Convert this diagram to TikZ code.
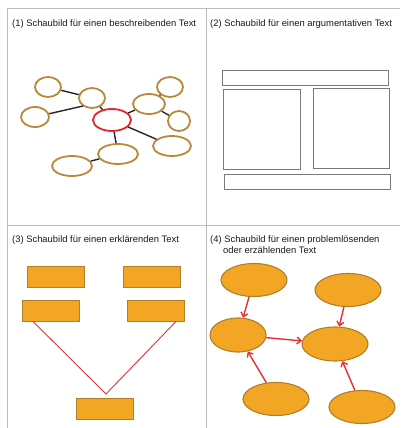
\documentclass[tikz,border=0pt]{standalone}
\usepackage{fontspec}
\setmainfont{Liberation Sans}
\usetikzlibrary{shapes.geometric,arrows.meta}
\definecolor{gridgray}{HTML}{BDBDBD}
\definecolor{ringbrown}{HTML}{B8893A}
\definecolor{ringred}{HTML}{E8242A}
\definecolor{boxgray}{HTML}{7A7A7A}
\definecolor{orfill}{HTML}{F2A623}
\definecolor{orborder}{HTML}{B07F2A}
\definecolor{linkred}{HTML}{E83030}
\tikzset{
  title/.style={anchor=base west, inner sep=0pt, font=\fontsize{9.4}{11}\selectfont, text=black!90},
  ring/.style={ellipse, draw=ringbrown, line width=1.8pt, inner sep=0pt},
  redring/.style={ellipse, draw=ringred, line width=1.8pt, inner sep=0pt},
  link/.style={draw=black!85, line width=1.4pt},
  argbox/.style={draw=boxgray, line width=1pt, inner sep=0pt, rectangle},
  obox/.style={rectangle, fill=orfill, draw=orborder, line width=1pt, inner sep=0pt, minimum width=57pt, minimum height=21pt},
  oell/.style={ellipse, fill=orfill, draw=orborder, line width=1.1pt, inner sep=0pt},
  redline/.style={draw=linkred, line width=0.9pt},
  redarrow/.style={draw=linkred, line width=1.4pt, -{Straight Barb[length=4pt,width=7pt]}},
}
\begin{document}
\begin{tikzpicture}[x=1pt,y=-1pt]
\useasboundingbox (0,0) rectangle (400,428);
% grid
\draw[gridgray, line width=1pt] (7,9) -- (400,9);
\draw[gridgray, line width=1pt] (7,9) -- (7,428);
\draw[gridgray, line width=1pt] (206,9) -- (206,428);
\draw[gridgray, line width=1pt] (7,225) -- (400,225);
% titles
\node[title] (t1) at (12,27) {(1) Schaubild für einen beschreibenden Text};
\node[title] (t2) at (210,27) {(2) Schaubild für einen argumentativen Text};
\node[title] (t3) at (12,242) {(3) Schaubild für einen erklärenden Text};
\node[title] (t4) at (210,242) {(4) Schaubild für einen problemlösenden};
\node[title] (t4b) at (223,253) {oder erzählenden Text};
% panel 1
\node[ring, minimum width=26pt, minimum height=20pt] (e1) at (48,87) {};
\node[ring, minimum width=26pt, minimum height=20pt] (e2) at (92,98) {};
\node[ring, minimum width=28pt, minimum height=20pt] (e3) at (35,117) {};
\node[redring, minimum width=38pt, minimum height=22pt] (ec) at (112,120) {};
\node[ring, minimum width=32pt, minimum height=20pt] (e5) at (149,104) {};
\node[ring, minimum width=26pt, minimum height=20pt] (e6) at (170,87) {};
\node[ring, minimum width=22pt, minimum height=20pt] (e7) at (179,121) {};
\node[ring, minimum width=38pt, minimum height=20pt] (e8) at (172,146) {};
\node[ring, minimum width=40pt, minimum height=20pt] (e9) at (118,154) {};
\node[ring, minimum width=40pt, minimum height=20pt] (e10) at (72,166) {};
\coordinate (j1) at (83,106);
\draw[link] (e1) -- (e2);
\draw[link] (e3) -- (j1);
\draw[link] (e2) -- (ec);
\draw[link] (ec) -- (e5);
\draw[link] (e5) -- (e6);
\draw[link] (e5) -- (e7);
\draw[link] (ec) -- (e8);
\draw[link] (ec) -- (e9);
\draw[link] (e9) -- (e10);
% panel 2
\node[argbox, minimum width=166pt, minimum height=15pt] (a1) at (305,77.5) {};
\node[argbox, minimum width=77pt, minimum height=80pt] (a2) at (261.5,129) {};
\node[argbox, minimum width=76pt, minimum height=80pt] (a3) at (351,128) {};
\node[argbox, minimum width=166pt, minimum height=15pt] (a4) at (307,181.5) {};
% panel 3
\node[obox] (b1) at (55.5,276.5) {};
\node[obox] (b2) at (152,276.5) {};
\node[obox] (b3) at (51,310.5) {};
\node[obox] (b4) at (156,310.5) {};
\node[obox] (b5) at (105,409) {};
\coordinate (apex) at (106,394);
\draw[redline] ([xshift=-18pt]b3.south) -- (apex) -- ([xshift=20pt]b4.south);
% panel 4
\node[oell, minimum width=66pt, minimum height=33pt] (p1) at (254,280) {};
\node[oell, minimum width=66pt, minimum height=33pt] (p2) at (348,290) {};
\node[oell, minimum width=56pt, minimum height=34pt] (p3) at (238,335) {};
\node[oell, minimum width=66pt, minimum height=34pt] (p4) at (335,344) {};
\node[oell, minimum width=66pt, minimum height=33pt] (p5) at (276,399) {};
\node[oell, minimum width=66pt, minimum height=33pt] (p6) at (362,407) {};
\draw[redarrow] (p1) -- (p3);
\draw[redarrow] (p2) -- (p4);
\draw[redarrow] (p3) -- (p4);
\draw[redarrow] (p5) -- (p3);
\draw[redarrow] (p6) -- (p4);
\end{tikzpicture}
\end{document}
